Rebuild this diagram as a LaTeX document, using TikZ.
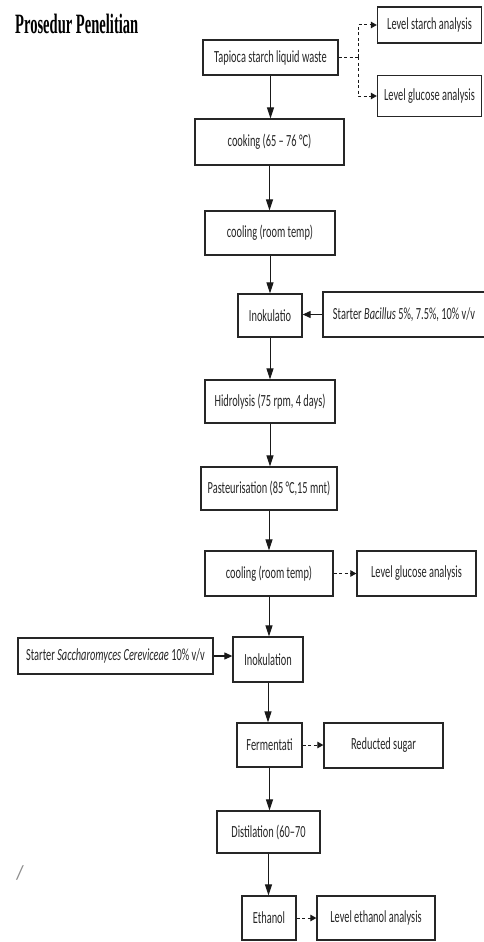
\documentclass[tikz,border=0pt]{standalone}
\usepackage{fontspec}
\setmainfont{Carlito}
\newfontfamily\titlefont{Liberation Serif}
\usepackage{graphicx}
\usetikzlibrary{arrows.meta,calc}
\newcommand\sq[1]{\scalebox{0.61}[1]{#1}}
\newcommand\bx[6]{\node[box,minimum width=#4pt,minimum height=#5pt] (#1) at (#2,#3) {\sq{#6}};}
\begin{document}
\begin{tikzpicture}[x=1pt,y=-1pt,
  box/.style={draw=black!85, line width=1.3pt, inner sep=0pt, font=\fontsize{17}{19}\selectfont, text=black!85},
  varr/.style={-{Triangle[length=11pt,width=7pt]}, line width=1pt, draw=black!90},
  harr/.style={-{Triangle[length=8pt,width=7pt]}, line width=1.1pt, draw=black!90},
  darr/.style={-{Triangle[length=6pt,width=6.5pt]}, line width=1pt, dash pattern=on 3pt off 2.5pt, draw=black!90},
  dline/.style={line width=1pt, dash pattern=on 3pt off 2.5pt, draw=black!90}]
\useasboundingbox (0,0) rectangle (483,942);
\node[anchor=base west, inner sep=0pt, font=\titlefont\bfseries\fontsize{28}{30}\selectfont] (title) at (15,34) {\scalebox{0.52}[1]{Prosedur Penelitian}};
\bx{tap}{270.5}{57.5}{135}{35}{Tapioca starch liquid waste}
\bx{lsa}{429.5}{25}{104}{36}{Level starch analysis}
\bx{lga1}{429.5}{96}{104}{41}{Level glucose analysis}
\bx{cook}{269.5}{142}{149}{46}{cooking (65 -- 76 °C)}
\bx{cool1}{270}{233}{130}{44}{cooling (room temp)}
\bx{inok1}{270}{315.5}{64}{43}{Inokulatio}
\node[box,minimum width=162pt,minimum height=45pt] (bac) at (404,314.5) {\sq{Starter \textit{Bacillus} 5\%, 7.5\%, 10\% v/v}};
\bx{hid}{270}{401.5}{130}{43}{Hidrolysis (75 rpm, 4 days)}
\bx{past}{269}{488.5}{136}{43}{Pasteurisation (85 °C,15 mnt)}
\bx{cool2}{269}{573.5}{128}{45}{cooling (room temp)}
\bx{lga2}{416.5}{573.5}{119}{45}{Level glucose analysis}
\bx{inok2}{268}{659.5}{70}{45}{Inokulation}
\node[box,minimum width=195pt,minimum height=36pt] (sac) at (115.5,656) {\sq{Starter \textit{Saccharomyces Cereviceae} 10\% v/v}};
\bx{ferm}{269.5}{745}{65}{44}{Fermentati}
\bx{red}{383.5}{745.5}{119}{45}{Reducted sugar}
\bx{dist}{268.5}{832}{103}{42}{Distilation (60--70}
\bx{eth}{269}{918}{54}{44}{Ethanol}
\bx{lea}{376}{918}{118}{44}{Level ethanol analysis}
\node[text=black!45, font=\fontsize{20}{20}\selectfont] (sl) at (20,873) {/};
% main flow
\draw[varr] (tap.south) -- (tap.south |- cook.north);
\draw[varr] (cook.south) -- (cook.south |- cool1.north);
\draw[varr] (cool1.south) -- (cool1.south |- inok1.north);
\draw[varr] (inok1.south) -- (inok1.south |- hid.north);
\draw[varr] (hid.south) -- (hid.south |- past.north);
\draw[varr] (past.south) -- (past.south |- cool2.north);
\draw[varr] (cool2.south) -- (cool2.south |- inok2.north);
\draw[varr] (inok2.south) -- (inok2.south |- ferm.north);
\draw[varr] (ferm.south) -- (ferm.south |- dist.north);
\draw[varr] (dist.south) -- (dist.south |- eth.north);
% side inputs
\draw[harr] (bac.west) -- (bac.west -| inok1.east);
\draw[harr] (sac.east) -- (sac.east -| inok2.west);
% analyses
\coordinate (j) at (358,57.5);
\draw[dline] (tap.east) -- (j);
\draw[darr] (j) |- (lsa.west);
\draw[darr] (j) |- (lga1.west);
\draw[darr] (cool2.east) -- (cool2.east -| lga2.west);
\draw[darr] (ferm.east) -- (ferm.east -| red.west);
\draw[darr] (eth.east) -- (eth.east -| lea.west);
\end{tikzpicture}
\end{document}
